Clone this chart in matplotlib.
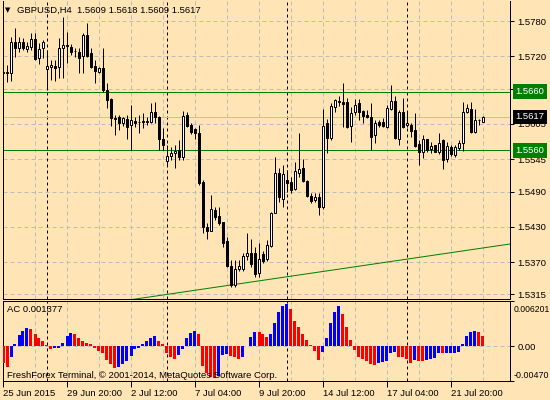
import matplotlib
matplotlib.use("Agg")
import matplotlib.pyplot as plt
import matplotlib.transforms as mtransforms
import numpy as np

# ---- GBPUSD H4 bars (25 Jun 2015 04:00 .. 22 Jul 2015 12:00) ----
opens = [
    1.5692, 1.5691, 1.5692, 1.5744, 1.5734, 1.5745, 1.5733, 1.5736, 1.5749, 1.5717,
    1.5734, 1.5698, 1.5702, 1.5704, 1.5702, 1.5734, 1.5740, 1.5736, 1.5729, 1.5728,
    1.5720, 1.5756, 1.5725, 1.5703, 1.5694, 1.5700, 1.5663, 1.5647, 1.5615, 1.5616,
    1.5606, 1.5613, 1.5603, 1.5610, 1.5609, 1.5608, 1.5609, 1.5609, 1.5625, 1.5617,
    1.5579, 1.5542, 1.5550, 1.5555, 1.5561, 1.5548, 1.5620, 1.5603, 1.5596, 1.5589,
    1.5507, 1.5430, 1.5423, 1.5459, 1.5448, 1.5438, 1.5406, 1.5363, 1.5331, 1.5358,
    1.5359, 1.5380, 1.5386, 1.5385, 1.5352, 1.5384, 1.5375, 1.5397, 1.5454, 1.5521,
    1.5478, 1.5510, 1.5507, 1.5495, 1.5522, 1.5530, 1.5508, 1.5482, 1.5476, 1.5481,
    1.5464, 1.5606, 1.5581, 1.5633, 1.5643, 1.5643, 1.5643, 1.5601, 1.5626, 1.5640,
    1.5627, 1.5620, 1.5617, 1.5586, 1.5608, 1.5609, 1.5600, 1.5630, 1.5644, 1.5579,
    1.5626, 1.5603, 1.5604, 1.5595, 1.5571, 1.5558, 1.5579, 1.5562, 1.5569, 1.5557,
    1.5578, 1.5545, 1.5566, 1.5552, 1.5564, 1.5573, 1.5626, 1.5630, 1.5592, 1.5611,
    1.5609,
]
highs = [
    1.5702, 1.5705, 1.5753, 1.5768, 1.5753, 1.5751, 1.5745, 1.5759, 1.5760, 1.5743,
    1.5748, 1.5731, 1.5714, 1.5714, 1.5751, 1.5787, 1.5762, 1.5741, 1.5734, 1.5734,
    1.5759, 1.5776, 1.5734, 1.5714, 1.5702, 1.5735, 1.5674, 1.5649, 1.5620, 1.5620,
    1.5617, 1.5620, 1.5637, 1.5617, 1.5620, 1.5624, 1.5617, 1.5640, 1.5642, 1.5618,
    1.5598, 1.5569, 1.5566, 1.5569, 1.5578, 1.5627, 1.5626, 1.5606, 1.5598, 1.5603,
    1.5510, 1.5436, 1.5484, 1.5464, 1.5464, 1.5439, 1.5413, 1.5374, 1.5374, 1.5374,
    1.5385, 1.5419, 1.5409, 1.5396, 1.5402, 1.5388, 1.5408, 1.5456, 1.5549, 1.5530,
    1.5535, 1.5527, 1.5515, 1.5541, 1.5589, 1.5546, 1.5510, 1.5487, 1.5487, 1.5487,
    1.5631, 1.5613, 1.5640, 1.5647, 1.5652, 1.5675, 1.5649, 1.5634, 1.5647, 1.5647,
    1.5629, 1.5629, 1.5640, 1.5612, 1.5612, 1.5615, 1.5637, 1.5671, 1.5652, 1.5629,
    1.5649, 1.5626, 1.5606, 1.5624, 1.5578, 1.5586, 1.5580, 1.5575, 1.5570, 1.5590,
    1.5580, 1.5575, 1.5569, 1.5569, 1.5578, 1.5643, 1.5639, 1.5643, 1.5630, 1.5614,
    1.5618,
]
lows = [
    1.5671, 1.5677, 1.5678, 1.5719, 1.5728, 1.5731, 1.5728, 1.5731, 1.5714, 1.5707,
    1.5717, 1.5663, 1.5680, 1.5678, 1.5683, 1.5683, 1.5708, 1.5722, 1.5719, 1.5691,
    1.5691, 1.5719, 1.5700, 1.5674, 1.5691, 1.5660, 1.5632, 1.5601, 1.5586, 1.5595,
    1.5601, 1.5579, 1.5561, 1.5600, 1.5590, 1.5598, 1.5603, 1.5606, 1.5606, 1.5561,
    1.5561, 1.5533, 1.5544, 1.5530, 1.5544, 1.5544, 1.5600, 1.5588, 1.5580, 1.5501,
    1.5420, 1.5410, 1.5422, 1.5442, 1.5433, 1.5396, 1.5362, 1.5328, 1.5328, 1.5354,
    1.5354, 1.5374, 1.5362, 1.5345, 1.5345, 1.5369, 1.5371, 1.5395, 1.5453, 1.5473,
    1.5464, 1.5490, 1.5487, 1.5493, 1.5515, 1.5507, 1.5481, 1.5471, 1.5473, 1.5450,
    1.5461, 1.5555, 1.5578, 1.5626, 1.5635, 1.5600, 1.5598, 1.5575, 1.5620, 1.5612,
    1.5606, 1.5615, 1.5561, 1.5572, 1.5600, 1.5600, 1.5598, 1.5629, 1.5579, 1.5569,
    1.5598, 1.5600, 1.5583, 1.5566, 1.5535, 1.5547, 1.5558, 1.5555, 1.5557, 1.5554,
    1.5528, 1.5541, 1.5550, 1.5548, 1.5561, 1.5559, 1.5623, 1.5589, 1.5590, 1.5603,
    1.5609,
]
closes = [
    1.5693, 1.5693, 1.5744, 1.5735, 1.5744, 1.5734, 1.5737, 1.5749, 1.5715, 1.5732,
    1.5744, 1.5703, 1.5705, 1.5701, 1.5734, 1.5739, 1.5738, 1.5728, 1.5729, 1.5718,
    1.5756, 1.5720, 1.5702, 1.5695, 1.5700, 1.5663, 1.5646, 1.5615, 1.5613, 1.5607,
    1.5615, 1.5600, 1.5612, 1.5606, 1.5608, 1.5610, 1.5610, 1.5625, 1.5617, 1.5579,
    1.5569, 1.5550, 1.5555, 1.5559, 1.5549, 1.5618, 1.5602, 1.5592, 1.5589, 1.5504,
    1.5430, 1.5423, 1.5460, 1.5446, 1.5436, 1.5403, 1.5364, 1.5331, 1.5359, 1.5363,
    1.5380, 1.5385, 1.5367, 1.5350, 1.5376, 1.5372, 1.5399, 1.5453, 1.5521, 1.5480,
    1.5519, 1.5504, 1.5493, 1.5525, 1.5528, 1.5508, 1.5482, 1.5474, 1.5480, 1.5464,
    1.5602, 1.5581, 1.5635, 1.5645, 1.5644, 1.5639, 1.5600, 1.5624, 1.5637, 1.5626,
    1.5619, 1.5616, 1.5583, 1.5607, 1.5603, 1.5602, 1.5632, 1.5644, 1.5581, 1.5626,
    1.5600, 1.5607, 1.5593, 1.5568, 1.5557, 1.5579, 1.5561, 1.5567, 1.5558, 1.5573,
    1.5544, 1.5567, 1.5554, 1.5565, 1.5573, 1.5625, 1.5632, 1.5592, 1.5612, 1.5612,
    1.5617,
]

# Accelerator Oscillator
ac_values = [
    -0.00223, -0.00277, -0.00141, 0.00027, 0.00150, 0.00209, 0.00254, 0.00232, 0.00164, 0.00109,
    0.00073, 0.00018, -0.00041, -0.00027, -0.00023, 0.00041, 0.00141, 0.00182, 0.00164, 0.00109,
    0.00073, 0.00041, 0.00027, -0.00027, -0.00064, -0.00095, -0.00191, -0.00245, -0.00291, -0.00282,
    -0.00245, -0.00200, -0.00132, -0.00041, -0.00018, 0.00036, 0.00073, 0.00109, 0.00141, 0.00073,
    0.00027, -0.00086, -0.00145, -0.00168, -0.00118, -0.00041, 0.00118, 0.00186, 0.00204, 0.00173,
    -0.00270, -0.00360, -0.00410, -0.00430, -0.00400, -0.00120, -0.00100, -0.00130, -0.00150, -0.00170,
    -0.00150, 0.00005, 0.00127, 0.00200, 0.00195, 0.00173, 0.00132, 0.00173, 0.00322, 0.00459,
    0.00540, 0.00572, 0.00500, 0.00336, 0.00268, 0.00173, 0.00082, 0.00014, -0.00064, -0.00182,
    -0.00073, 0.00118, 0.00309, 0.00459, 0.00540, 0.00436, 0.00268, 0.00091, -0.00055, -0.00141,
    -0.00177, -0.00200, -0.00245, -0.00250, -0.00232, -0.00214, -0.00200, -0.00095, -0.00077, -0.00141,
    -0.00145, -0.00168, -0.00223, -0.00191, -0.00193, -0.00195, -0.00186, -0.00177, -0.00164, -0.00095,
    -0.00097, -0.00096, -0.00094, -0.00090, -0.00073, 0.00036, 0.00141, 0.00200, 0.00202, 0.00198,
    0.001377,
]

time_labels = ["25 Jun 2015", "29 Jun 20:00", "2 Jul 12:00", "7 Jul 04:00",
               "9 Jul 20:00", "14 Jul 12:00", "17 Jul 04:00", "21 Jul 20:00"]
time_label_bars = [0, 16, 32, 48, 64, 80, 96, 112]
separator_bars = [11, 41, 71, 101]
price_ticks = [1.5780, 1.5720, 1.5665, 1.5605, 1.5545, 1.5490, 1.5430, 1.5370, 1.5315]
level_lines = [1.5660, 1.5560]
trend_bars = [0, 127]
trend_prices = [1.5274, 1.5401]
ac_limits = [-0.00470, 0.006201]

BG = "#FFE4B5"
GRID = "#BDBDBD"
GREEN = "#008000"
W, H = 550, 400
FS = 6.8
LW = 0.72  # one pixel

plt.rcParams["font.family"] = ["Liberation Sans", "DejaVu Sans"]


def px_rect(x0, y0, x1, y1):
    return [x0 / W, 1 - y1 / H, (x1 - x0) / W, (y1 - y0) / H]


fig = plt.figure(figsize=(5.5, 4), dpi=100, facecolor=BG)
ax = fig.add_axes(px_rect(2.5, 0.5, 510.5, 298.5), facecolor=BG)
ac_ax = fig.add_axes(px_rect(2.5, 300.5, 510.5, 381), facecolor=BG)

n = len(closes)
idx = np.arange(n)
o, h, l, c = map(np.array, (opens, highs, lows, closes))
xlim = (-0.125, 126.875)
grid_bars = np.arange(8, n, 8)

# ---- price panel ----
ax.set_xlim(*xlim)
ax.set_ylim(1.5308, 1.5815)
for b in grid_bars:
    ax.axvline(b, color=GRID, lw=LW, dashes=(4, 3), zorder=1)
for p in price_ticks:
    ax.axhline(p, color=GRID, lw=LW, dashes=(4, 3), zorder=1)
for b in separator_bars:
    ax.axvline(b, color="black", lw=LW, dashes=(3, 3), zorder=1.5)
ax.axhline(c[-1], color="#C0C0C0", lw=LW, zorder=1.6)
for p in level_lines:
    ax.axhline(p, color=GREEN, lw=LW, zorder=1.7)
ax.plot(trend_bars, trend_prices, color=GREEN, lw=LW, zorder=1.7)

ax.vlines(idx, l, h, color="black", lw=LW, zorder=3)
up = c >= o
body_lo = np.minimum(o, c)
body_h = np.maximum(np.abs(c - o), 0.00002)
ax.bar(idx[up], body_h[up], bottom=body_lo[up], width=0.5, facecolor="white",
       edgecolor="black", linewidth=LW, zorder=4)
ax.bar(idx[~up], body_h[~up], bottom=body_lo[~up], width=0.5, facecolor="black",
       edgecolor="black", linewidth=LW, zorder=4)

ax.set_xticks([])
ax.yaxis.tick_right()
ax.set_yticks(price_ticks)
ax.set_yticklabels([f"{p:.4f}" for p in price_ticks])
ax.tick_params(axis="y", length=3, width=LW, pad=2, labelsize=FS, colors="black")
ax.spines["top"].set_visible(False)
for s in ("left", "right", "bottom"):
    ax.spines[s].set_linewidth(LW)

# value tags on the price scale
tag_tr = mtransforms.offset_copy(
    mtransforms.blended_transform_factory(ax.transAxes, ax.transData),
    fig=fig, x=5, y=0, units="dots")
for p, bg in [(level_lines[0], GREEN), (c[-1], "black"), (level_lines[1], GREEN)]:
    ax.text(1.0, p, f"{p:.4f}", transform=tag_tr, ha="left", va="center",
            fontsize=FS, color="white", clip_on=False, zorder=10,
            bbox=dict(boxstyle="square,pad=0.3", fc=bg, ec="none"))

# ---- AC panel ----
ac = np.array(ac_values)
ac_ax.set_xlim(*xlim)
ac_ax.set_ylim(*ac_limits)
for b in grid_bars:
    ac_ax.axvline(b, color=GRID, lw=LW, dashes=(4, 3), zorder=1)
ac_ax.axhline(0, color=GRID, lw=LW, dashes=(4, 3), zorder=1)
for b in separator_bars:
    ac_ax.axvline(b, color="black", lw=LW, dashes=(3, 3), zorder=1.5)
rising = np.r_[False, np.diff(ac) > 0]
colors = np.where(rising, "#0000FF", "#FF0000")
ac_ax.bar(idx, ac, width=0.75, color=colors, linewidth=0, zorder=3)

ac_ax.yaxis.tick_right()
ac_ax.set_yticks([ac_limits[1], 0, ac_limits[0]])
ac_ax.set_yticklabels(["", "0.00", ""])
ac_ax.tick_params(axis="y", length=3, width=LW, pad=2, labelsize=FS)
# MetaTrader keeps the max / min labels inside the window
fig.text(514 / W, 1 - 310 / H, f"{ac_limits[1]:.6f}", fontsize=6.2, va="center")
fig.text(514 / W, 1 - 376 / H, f"{ac_limits[0]:.5f}", fontsize=6.4, va="center")

ac_ax.set_xticks(time_label_bars)
ac_ax.set_xticklabels(time_labels)
ac_ax.tick_params(axis="x", length=4, width=LW, pad=1.5, labelsize=FS)
for t in ac_ax.get_xticklabels():
    t.set_ha("left")
for s in ac_ax.spines.values():
    s.set_linewidth(LW)

# ---- captions ----
fig.text(5 / W, 1 - 10 / H, "\u25BC", fontsize=5, va="center", family="DejaVu Sans")
fig.text(17 / W, 1 - 10 / H,
         f"GBPUSD,H4  {o[-1]:.4f} {h[-1]:.4f} {l[-1]:.4f} {c[-1]:.4f}",
         fontsize=FS, va="center")
fig.text(7 / W, 1 - 309.5 / H, f"AC {ac[-1]:.6f}", fontsize=FS, va="center")
fig.text(7 / W, 1 - 375 / H,
         "FreshForex Terminal, \u00A9 2001-2014, MetaQuotes Software Corp.",
         fontsize=FS, va="center")

fig.savefig("out.png", dpi=100, facecolor=BG)
